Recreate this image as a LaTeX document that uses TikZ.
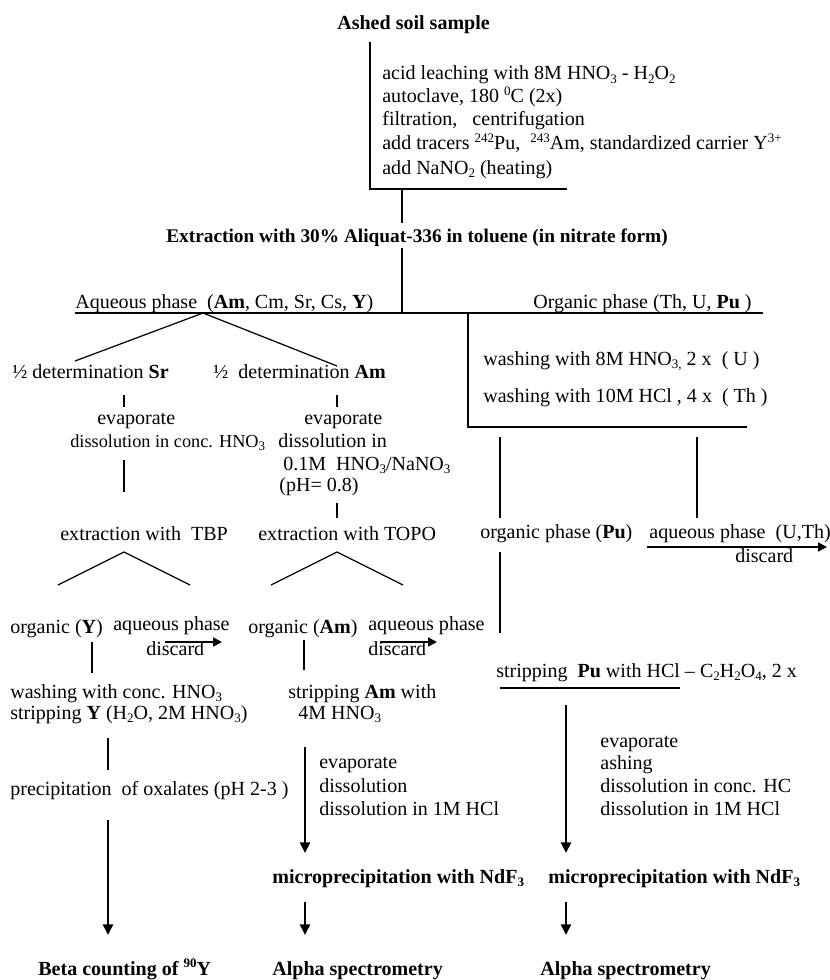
\documentclass[tikz,border=0pt]{standalone}
\usepackage{fontspec}
\setmainfont{Liberation Serif}
\usetikzlibrary{arrows.meta}
\newcommand{\su}[1]{\raisebox{-0.4ex}{\fontsize{7.4}{8}\selectfont #1}}
\newcommand{\up}[1]{\raisebox{0.85ex}{\fontsize{7.4}{8}\selectfont #1}}
\begin{document}
\begin{tikzpicture}[
    x=0.02cm, y=-0.02cm,
    every node/.style={font=\fontsize{11.4}{13.1}\selectfont, inner sep=0pt},
    txt/.style={anchor=base west},
    bold/.style={txt, font=\fontsize{11.4}{13.1}\selectfont\bfseries},
    ln/.style={line width=0.7pt},
    flow/.style={line width=1.6pt, -{Triangle[length=6pt,width=5.6pt]}},
    dis/.style={line width=1.1pt, -{Triangle[length=5pt,width=5pt]}}
]
    \useasboundingbox (0,0) rectangle (830,980);

    % start and first treatment
    \node[bold] (ashed) at (337,30) {Ashed soil sample};
    \foreach \yy/\t [count=\i] in {
        80/{acid leaching with 8M HNO\su{3} - H\su{2}O\su{2}},
        103/{autoclave, 180 \up{0}C (2x)},
        126/{filtration, \ \ centrifugation},
        150/{add tracers \up{242}Pu, \ \up{243}Am, standardized carrier Y\up{3+}},
        174/{add NaNO\su{2} (heating)}}
        \node[txt] (leach\i) at (382,\yy) {\t};

    \node[bold, font=\fontsize{11}{13}\selectfont\bfseries] (extr) at (166,242)
        {Extraction with 30\% Aliquat-336 in toluene (in nitrate form)};
    \node[txt] (aqph) at (75,308) {Aqueous phase \ (\textbf{Am}, Cm, Sr, Cs, \textbf{Y})};
    \node[txt] (orgph) at (533,308) {Organic phase (Th, U, \textbf{Pu} )};

    % organic branch
    \node[txt] (washU) at (483,365) {washing with 8M HNO\su{3,} 2 x \ ( U )};
    \node[txt] (washTh) at (483,402) {washing with 10M HCl , 4 x \ ( Th )};
    \node[txt] (orgPu) at (480,538) {organic phase (\textbf{Pu})};
    \node[txt] (aqPu) at (649,538) {aqueous phase \ (U,Th)};
    \node[txt] (disPu) at (735,562) {discard};
    \node[txt] (stripPu) at (496,677) {stripping \ \textbf{Pu} with HCl -- C\su{2}H\su{2}O\su{4}, 2 x};
    \foreach \yy/\t [count=\i] in {747/evaporate, 769/ashing,
        792/dissolution in conc. HC, 815/dissolution in 1M HCl}
        \node[txt] (evPu\i) at (600,\yy) {\t};
    \node[bold] (ndfPu) at (548,883) {microprecipitation with NdF\su{3}};
    \node[bold] (alphaPu) at (540,975) {Alpha spectrometry};

    % Sr branch
    \node[txt] (detSr) at (12,378) {½ determination \textbf{Sr}};
    \node[txt] (evSr) at (97,424) {evaporate};
    \node[txt, font=\fontsize{10.4}{12}\selectfont] (dissSr) at (70,447)
        {dissolution in conc. HNO\su{3}};
    \node[txt] (tbp) at (60,540) {extraction with \ TBP};
    \node[txt] (orgY) at (10,633) {organic (\textbf{Y})};
    \node[txt] (aqY) at (113,630) {aqueous phase};
    \node[txt] (disY) at (146,655) {discard};
    \node[txt] (washY) at (10,698) {washing with conc. HNO\su{3}};
    \node[txt] (stripY) at (10,719) {stripping \textbf{Y} (H\su{2}O, 2M HNO\su{3})};
    \node[txt] (oxal) at (10,795) {precipitation \ of oxalates (pH 2-3 )};
    \node[bold] (beta) at (38,975) {Beta counting of \up{90}Y};

    % Am branch
    \node[txt] (detAm) at (213,378) {½ \ determination \textbf{Am}};
    \node[txt] (evAm) at (304,424) {evaporate};
    \node[txt] (dissAm) at (278,447) {dissolution in};
    \node[txt] (nitAm) at (283,470) {0.1M \ HNO\su{3}/NaNO\su{3}};
    \node[txt] (phAm) at (279,491) {(pH= 0.8)};
    \node[txt] (topo) at (258,540) {extraction with TOPO};
    \node[txt] (orgAm) at (248,633) {organic (\textbf{Am})};
    \node[txt] (aqAm) at (368,630) {aqueous phase};
    \node[txt] (disAm) at (368,655) {discard};
    \node[txt] (stripAm) at (288,698) {stripping \textbf{Am} with};
    \node[txt] (stripAm2) at (298,719) {4M HNO\su{3}};
    \foreach \yy/\t [count=\i] in {768/evaporate, 792/dissolution,
        815/dissolution in 1M HCl}
        \node[txt] (evAm\i) at (319,\yy) {\t};
    \node[bold] (ndfAm) at (272,883) {microprecipitation with NdF\su{3}};
    \node[bold] (alphaAm) at (272,975) {Alpha spectrometry};

    % connector ends
    \foreach \n/\x/\y in {
        topA/370/42, topB/370/189, topC/567/189,
        exA/402/189, exB/402/223, exC/402/248, exD/402/313,
        phA/75/313, phB/763/313, split/203/313, toSr/75/361, toAm/337/366,
        wbA/468/313, wbB/468/427, wbC/747/427,
        puA/500/437, puB/500/518, puC/500/552, puD/500/633,
        uA/697/437, uB/697/518, uArrA/647/547, uArrB/827/547,
        spA/500/688, spB/680/688, puArrA/566/705, puArrB/566/853,
        puArrC/566/902, puArrD/566/935,
        srA/124/395, srB/124/407, srC/124/460, srD/124/492,
        amA/337/395, amB/337/407, amC/337/503, amD/337/518,
        tbpTop/124/552, tbpL/58/585, tbpR/190/585,
        topoTop/337/552, topoL/271/585, topoR/403/585,
        yA/92/642, yB/92/673, yC/108/738, yD/108/770, yE/108/820, yF/108/935,
        yDisA/165/642, yDisB/222/642, amDisA/380/642, amDisB/437/642,
        oA/304/640, oB/304/670, oC/305/747, oD/305/853, oE/305/902, oF/305/935}
        \coordinate (\n) at (\x,\y);

    \draw[ln] (topA) -- (topB) -- (topC);
    \draw[ln] (exA) -- (exB);
    \draw[ln] (exC) -- (exD);
    \draw[ln] (phA) -- (phB);
    \draw[ln] (toSr) -- (split) -- (toAm);
    \draw[ln] (wbA) -- (wbB) -- (wbC);
    \draw[ln] (puA) -- (puB);
    \draw[ln] (puC) -- (puD);
    \draw[ln] (uA) -- (uB);
    \draw[dis] (uArrA) -- (uArrB);
    \draw[ln] (spA) -- (spB);
    \draw[flow] (puArrA) -- (puArrB);
    \draw[flow] (puArrC) -- (puArrD);

    \draw[ln] (srA) -- (srB);
    \draw[ln] (srC) -- (srD);
    \draw[ln] (amA) -- (amB);
    \draw[ln] (amC) -- (amD);
    \draw[ln] (tbpL) -- (tbpTop) -- (tbpR);
    \draw[ln] (topoL) -- (topoTop) -- (topoR);
    \draw[ln] (yA) -- (yB);
    \draw[ln] (yC) -- (yD);
    \draw[flow] (yE) -- (yF);
    \draw[dis] (yDisA) -- (yDisB);
    \draw[dis] (amDisA) -- (amDisB);
    \draw[ln] (oA) -- (oB);
    \draw[flow] (oC) -- (oD);
    \draw[flow] (oE) -- (oF);
\end{tikzpicture}
\end{document}
